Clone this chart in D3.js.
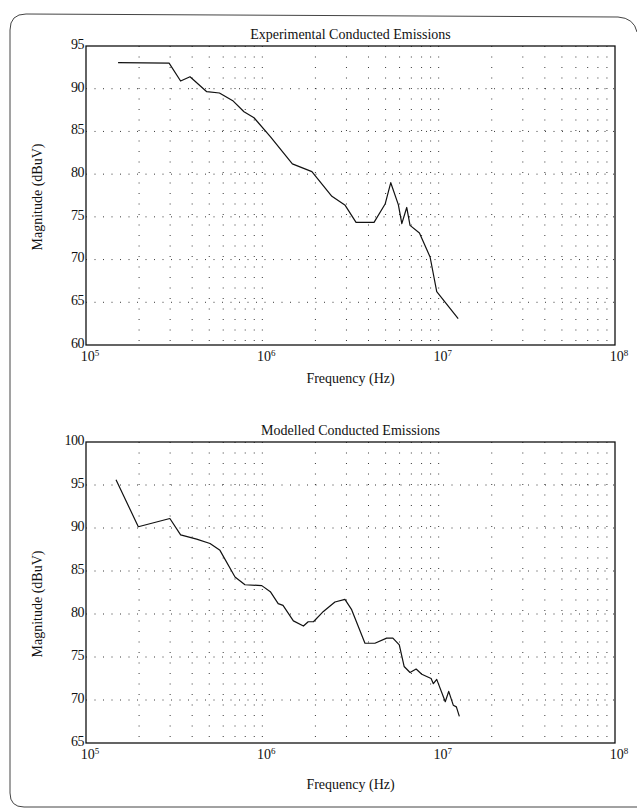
<!DOCTYPE html>
<html>
<head>
<meta charset="utf-8">
<script src="https://cdn.jsdelivr.net/npm/d3@7"></script>
<style>
  body { margin: 0; background: #fff; }
  svg { display: block; }
  text { font-family: "Liberation Serif", "Times New Roman", serif; fill: #111; }
  .grid line { stroke: #222; stroke-width: 0.9; }
  .frame { fill: none; stroke: #444; stroke-width: 1; }
</style>
</head>
<body>
<svg id="chart" width="637" height="809"></svg>
<script>
// top panel: measured emission
var expFreq = [1.52e5, 2.96e5, 3.44e5, 3.89e5, 4.84e5, 5.71e5, 6.84e5, 7.87e5, 8.97e5,
  1.11e6, 1.48e6, 1.91e6, 2.48e6, 2.95e6, 3.40e6, 4.30e6, 4.97e6, 5.35e6, 5.91e6,
  6.18e6, 6.59e6, 6.88e6, 7.78e6, 8.94e6, 9.75e6, 1.29e7];
var expMag = [93.05, 93.0, 90.9, 91.4, 89.65, 89.5, 88.55, 87.3, 86.6,
  84.4, 81.2, 80.3, 77.4, 76.35, 74.35, 74.35, 76.5, 79.0, 76.4,
  74.2, 76.1, 74.0, 73.1, 70.3, 66.25, 63.1];

// bottom panel: model
var modFreq = [1.48e5, 1.98e5, 2.99e5, 3.44e5, 4.24e5, 5.05e5, 5.75e5, 7.0e5, 7.97e5, 9.93e5,
  1.11e6, 1.23e6, 1.31e6, 1.50e6, 1.71e6, 1.82e6, 1.95e6, 2.22e6, 2.58e6, 2.94e6,
  3.21e6, 3.82e6, 4.35e6, 5.07e6, 5.5e6, 5.98e6, 6.37e6, 6.88e6, 7.45e6, 8.02e6,
  9.06e6, 9.33e6, 9.75e6, 1.09e7, 1.14e7, 1.21e7, 1.26e7, 1.31e7];
var modMag = [95.6, 90.15, 91.1, 89.2, 88.7, 88.2, 87.4, 84.3, 83.4, 83.3,
  82.6, 81.2, 81.0, 79.2, 78.6, 79.1, 79.1, 80.3, 81.4, 81.7,
  80.5, 76.6, 76.6, 77.2, 77.2, 76.4, 73.9, 73.2, 73.6, 73.0,
  72.5, 71.9, 72.4, 69.8, 71.0, 69.4, 69.2, 68.1];

var expTicks = [60, 65, 70, 75, 80, 85, 90, 95];
var modTicks = [65, 70, 75, 80, 85, 90, 95, 100];
var decades = [5, 6, 7, 8];

var svg = d3.select("#chart");

// scanned page frame
svg.append("path")
  .attr("class", "frame")
  .attr("d", "M637,807 L24,807 Q10,807 10,793 L10,30 Q10,14 26,14 L618,17 Q634,18 637,32");

var left = 86, right = 615;

function drawPanel(top, bottom, ticks, freq, mag, title, xlabOff, ylabY) {
  var x = d3.scaleLog().domain([1e5, 1e8]).range([left, right]);
  var y = d3.scaleLinear().domain([ticks[0], ticks[ticks.length - 1]]).range([bottom, top]);
  var g = svg.append("g");

  // dotted grid, every minor decade step
  var minor = [];
  decades.slice(0, 3).forEach(function(e) {
    for (var k = 1; k <= 9; k++) minor.push(k * Math.pow(10, e));
  });
  var grid = g.append("g").attr("class", "grid");
  grid.selectAll(".vg").data(minor.filter(function(d) { return d > 1e5; }))
    .enter().append("line")
    .attr("x1", function(d) { return x(d); })
    .attr("x2", function(d) { return x(d); })
    .attr("y1", top).attr("y2", bottom)
    .attr("stroke-dasharray", "1,9.5");
  grid.selectAll(".hg").data(ticks.slice(1, -1))
    .enter().append("line")
    .attr("x1", left).attr("x2", right)
    .attr("y1", function(d) { return y(d); })
    .attr("y2", function(d) { return y(d); })
    .attr("stroke-dasharray", "1,7.5");

  // box
  g.append("rect")
    .attr("x", left).attr("y", top)
    .attr("width", right - left).attr("height", bottom - top)
    .attr("fill", "none").attr("stroke", "#111").attr("stroke-width", 1.3);

  // y tick labels
  g.selectAll(".yl").data(ticks).enter().append("text")
    .attr("x", left - 2)
    .attr("y", function(d) { return y(d); })
    .attr("dy", "0.2em")
    .attr("text-anchor", "end")
    .attr("font-size", 14)
    .style("letter-spacing", "-0.5px")
    .text(function(d) { return d; });

  // x tick labels 10^n
  var xl = g.selectAll(".xl").data(decades).enter().append("text")
    .attr("x", function(d) { return x(Math.pow(10, d)) + 4; })
    .attr("y", bottom + 16)
    .attr("text-anchor", "middle")
    .attr("font-size", 14);
  xl.append("tspan").text("10");
  xl.append("tspan").attr("font-size", 9).attr("dy", -5).text(function(d) { return d; });

  g.append("text")
    .attr("x", (left + right) / 2).attr("y", top - 7)
    .attr("text-anchor", "middle").attr("font-size", 14)
    .text(title);

  g.append("text")
    .attr("x", (left + right) / 2).attr("y", bottom + xlabOff)
    .attr("text-anchor", "middle").attr("font-size", 14)
    .text("Frequency (Hz)");

  g.append("text")
    .attr("transform", "translate(42," + ylabY + ") rotate(-90)")
    .attr("text-anchor", "middle").attr("font-size", 14)
    .text("Magnitude (dBuV)");

  var line = d3.line()
    .x(function(d, i) { return x(freq[i]); })
    .y(function(d) { return y(d); });
  g.append("path")
    .datum(mag)
    .attr("d", line)
    .attr("fill", "none")
    .attr("stroke", "#111")
    .attr("stroke-width", 1.2)
    .attr("stroke-linejoin", "round");
}

drawPanel(46, 345, expTicks, expFreq, expMag, "Experimental Conducted Emissions", 38, 197);
drawPanel(442, 743, modTicks, modFreq, modMag, "Modelled Conducted Emissions", 46, 604);
</script>
</body>
</html>
